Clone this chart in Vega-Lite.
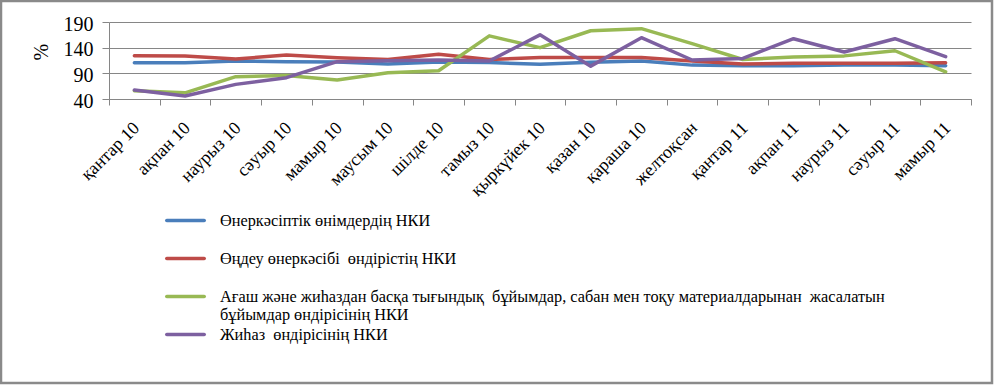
{
  "$schema": "https://vega.github.io/schema/vega-lite/v6.json",
  "width": 991,
  "height": 382,
  "autosize": {"type": "none"},
  "padding": {"left": 1, "top": 1, "right": 2, "bottom": 2},
  "background": "white",
  "config": {
    "view": {"stroke": "#8a8a8a", "strokeWidth": 2.5},
    "font": "Liberation Serif"
  },
  "data": {
    "values": [
      {"m": "қантар 10", "s": "Өнеркәсіптік өнімдердің НКИ", "v": 110.7},
      {"m": "ақпан 10", "s": "Өнеркәсіптік өнімдердің НКИ", "v": 110.5},
      {"m": "наурыз 10", "s": "Өнеркәсіптік өнімдердің НКИ", "v": 114},
      {"m": "сәуыр 10", "s": "Өнеркәсіптік өнімдердің НКИ", "v": 112.5},
      {"m": "мамыр 10", "s": "Өнеркәсіптік өнімдердің НКИ", "v": 112},
      {"m": "маусым 10", "s": "Өнеркәсіптік өнімдердің НКИ", "v": 108},
      {"m": "шілде 10", "s": "Өнеркәсіптік өнімдердің НКИ", "v": 112},
      {"m": "тамыз 10", "s": "Өнеркәсіптік өнімдердің НКИ", "v": 111},
      {"m": "қыркүйек 10", "s": "Өнеркәсіптік өнімдердің НКИ", "v": 107.6},
      {"m": "қазан 10", "s": "Өнеркәсіптік өнімдердің НКИ", "v": 111.5},
      {"m": "қараша 10", "s": "Өнеркәсіптік өнімдердің НКИ", "v": 114},
      {"m": "желтоқсан", "s": "Өнеркәсіптік өнімдердің НКИ", "v": 106},
      {"m": "қантар 11", "s": "Өнеркәсіптік өнімдердің НКИ", "v": 105},
      {"m": "ақпан 11", "s": "Өнеркәсіптік өнімдердің НКИ", "v": 105},
      {"m": "наурыз 11", "s": "Өнеркәсіптік өнімдердің НКИ", "v": 106},
      {"m": "сәуыр 11", "s": "Өнеркәсіптік өнімдердің НКИ", "v": 106},
      {"m": "мамыр 11", "s": "Өнеркәсіптік өнімдердің НКИ", "v": 105},

      {"m": "қантар 10", "s": "Өңдеу өнеркәсібі\u00a0 өндірістің НКИ", "v": 124.4},
      {"m": "ақпан 10", "s": "Өңдеу өнеркәсібі\u00a0 өндірістің НКИ", "v": 124},
      {"m": "наурыз 10", "s": "Өңдеу өнеркәсібі\u00a0 өндірістің НКИ", "v": 118},
      {"m": "сәуыр 10", "s": "Өңдеу өнеркәсібі\u00a0 өндірістің НКИ", "v": 125.7},
      {"m": "мамыр 10", "s": "Өңдеу өнеркәсібі\u00a0 өндірістің НКИ", "v": 120.5},
      {"m": "маусым 10", "s": "Өңдеу өнеркәсібі\u00a0 өндірістің НКИ", "v": 117},
      {"m": "шілде 10", "s": "Өңдеу өнеркәсібі\u00a0 өндірістің НКИ", "v": 127},
      {"m": "тамыз 10", "s": "Өңдеу өнеркәсібі\u00a0 өндірістің НКИ", "v": 117},
      {"m": "қыркүйек 10", "s": "Өңдеу өнеркәсібі\u00a0 өндірістің НКИ", "v": 121},
      {"m": "қазан 10", "s": "Өңдеу өнеркәсібі\u00a0 өндірістің НКИ", "v": 121},
      {"m": "қараша 10", "s": "Өңдеу өнеркәсібі\u00a0 өндірістің НКИ", "v": 121},
      {"m": "желтоқсан", "s": "Өңдеу өнеркәсібі\u00a0 өндірістің НКИ", "v": 114},
      {"m": "қантар 11", "s": "Өңдеу өнеркәсібі\u00a0 өндірістің НКИ", "v": 108},
      {"m": "ақпан 11", "s": "Өңдеу өнеркәсібі\u00a0 өндірістің НКИ", "v": 109.5},
      {"m": "наурыз 11", "s": "Өңдеу өнеркәсібі\u00a0 өндірістің НКИ", "v": 109.5},
      {"m": "сәуыр 11", "s": "Өңдеу өнеркәсібі\u00a0 өндірістің НКИ", "v": 109.5},
      {"m": "мамыр 11", "s": "Өңдеу өнеркәсібі\u00a0 өндірістің НКИ", "v": 110.7},

      {"m": "қантар 10", "s": "Ағаш және жиһаздан басқа тығындық\u00a0 бұйымдар, сабан мен тоқу материалдарынан\u00a0 жасалатын|бұйымдар өндірісінің НКИ", "v": 56},
      {"m": "ақпан 10", "s": "Ағаш және жиһаздан басқа тығындық\u00a0 бұйымдар, сабан мен тоқу материалдарынан\u00a0 жасалатын|бұйымдар өндірісінің НКИ", "v": 52},
      {"m": "наурыз 10", "s": "Ағаш және жиһаздан басқа тығындық\u00a0 бұйымдар, сабан мен тоқу материалдарынан\u00a0 жасалатын|бұйымдар өндірісінің НКИ", "v": 83.5},
      {"m": "сәуыр 10", "s": "Ағаш және жиһаздан басқа тығындық\u00a0 бұйымдар, сабан мен тоқу материалдарынан\u00a0 жасалатын|бұйымдар өндірісінің НКИ", "v": 86},
      {"m": "мамыр 10", "s": "Ағаш және жиһаздан басқа тығындық\u00a0 бұйымдар, сабан мен тоқу материалдарынан\u00a0 жасалатын|бұйымдар өндірісінің НКИ", "v": 77},
      {"m": "маусым 10", "s": "Ағаш және жиһаздан басқа тығындық\u00a0 бұйымдар, сабан мен тоқу материалдарынан\u00a0 жасалатын|бұйымдар өндірісінің НКИ", "v": 91},
      {"m": "шілде 10", "s": "Ағаш және жиһаздан басқа тығындық\u00a0 бұйымдар, сабан мен тоқу материалдарынан\u00a0 жасалатын|бұйымдар өндірісінің НКИ", "v": 95},
      {"m": "тамыз 10", "s": "Ағаш және жиһаздан басқа тығындық\u00a0 бұйымдар, сабан мен тоқу материалдарынан\u00a0 жасалатын|бұйымдар өндірісінің НКИ", "v": 163},
      {"m": "қыркүйек 10", "s": "Ағаш және жиһаздан басқа тығындық\u00a0 бұйымдар, сабан мен тоқу материалдарынан\u00a0 жасалатын|бұйымдар өндірісінің НКИ", "v": 140},
      {"m": "қазан 10", "s": "Ағаш және жиһаздан басқа тығындық\u00a0 бұйымдар, сабан мен тоқу материалдарынан\u00a0 жасалатын|бұйымдар өндірісінің НКИ", "v": 173},
      {"m": "қараша 10", "s": "Ағаш және жиһаздан басқа тығындық\u00a0 бұйымдар, сабан мен тоқу материалдарынан\u00a0 жасалатын|бұйымдар өндірісінің НКИ", "v": 177},
      {"m": "желтоқсан", "s": "Ағаш және жиһаздан басқа тығындық\u00a0 бұйымдар, сабан мен тоқу материалдарынан\u00a0 жасалатын|бұйымдар өндірісінің НКИ", "v": 148},
      {"m": "қантар 11", "s": "Ағаш және жиһаздан басқа тығындық\u00a0 бұйымдар, сабан мен тоқу материалдарынан\u00a0 жасалатын|бұйымдар өндірісінің НКИ", "v": 117},
      {"m": "ақпан 11", "s": "Ағаш және жиһаздан басқа тығындық\u00a0 бұйымдар, сабан мен тоқу материалдарынан\u00a0 жасалатын|бұйымдар өндірісінің НКИ", "v": 122},
      {"m": "наурыз 11", "s": "Ағаш және жиһаздан басқа тығындық\u00a0 бұйымдар, сабан мен тоқу материалдарынан\u00a0 жасалатын|бұйымдар өндірісінің НКИ", "v": 124},
      {"m": "сәуыр 11", "s": "Ағаш және жиһаздан басқа тығындық\u00a0 бұйымдар, сабан мен тоқу материалдарынан\u00a0 жасалатын|бұйымдар өндірісінің НКИ", "v": 134},
      {"m": "мамыр 11", "s": "Ағаш және жиһаздан басқа тығындық\u00a0 бұйымдар, сабан мен тоқу материалдарынан\u00a0 жасалатын|бұйымдар өндірісінің НКИ", "v": 93},

      {"m": "қантар 10", "s": "Жиһаз\u00a0 өндірісінің НКИ", "v": 57.5},
      {"m": "ақпан 10", "s": "Жиһаз\u00a0 өндірісінің НКИ", "v": 46},
      {"m": "наурыз 10", "s": "Жиһаз\u00a0 өндірісінің НКИ", "v": 68.5},
      {"m": "сәуыр 10", "s": "Жиһаз\u00a0 өндірісінің НКИ", "v": 81.5},
      {"m": "мамыр 10", "s": "Жиһаз\u00a0 өндірісінің НКИ", "v": 112.7},
      {"m": "маусым 10", "s": "Жиһаз\u00a0 өндірісінің НКИ", "v": 114.6},
      {"m": "шілде 10", "s": "Жиһаз\u00a0 өндірісінің НКИ", "v": 116},
      {"m": "тамыз 10", "s": "Жиһаз\u00a0 өндірісінің НКИ", "v": 114},
      {"m": "қыркүйек 10", "s": "Жиһаз\u00a0 өндірісінің НКИ", "v": 165},
      {"m": "қазан 10", "s": "Жиһаз\u00a0 өндірісінің НКИ", "v": 104},
      {"m": "қараша 10", "s": "Жиһаз\u00a0 өндірісінің НКИ", "v": 159.5},
      {"m": "желтоқсан", "s": "Жиһаз\u00a0 өндірісінің НКИ", "v": 116},
      {"m": "қантар 11", "s": "Жиһаз\u00a0 өндірісінің НКИ", "v": 119},
      {"m": "ақпан 11", "s": "Жиһаз\u00a0 өндірісінің НКИ", "v": 157.5},
      {"m": "наурыз 11", "s": "Жиһаз\u00a0 өндірісінің НКИ", "v": 131.5},
      {"m": "сәуыр 11", "s": "Жиһаз\u00a0 өндірісінің НКИ", "v": 157.5},
      {"m": "мамыр 11", "s": "Жиһаз\u00a0 өндірісінің НКИ", "v": 122.5}
    ]
  },
  "mark": {"type": "line", "strokeWidth": 3.5, "strokeCap": "round", "strokeJoin": "round"},
  "encoding": {
    "x": {
      "field": "m",
      "type": "nominal",
      "sort": null,
      "scale": {"type": "band", "range": [108, 970], "paddingInner": 0, "paddingOuter": 0},
      "axis": {
        "orient": "bottom",
        "offset": -284,
        "title": null,
        "labelAngle": -45,
        "labelAlign": "right",
        "labelBaseline": "middle",
        "labelFont": "Liberation Serif",
        "labelFontSize": 18,
        "labelColor": "black",
        "labelPadding": 20,
        "labelOffset": 2,
        "labelOverlap": false,
        "labelLimit": 300,
        "tickSize": 6,
        "tickColor": "#868686",
        "tickBand": "extent",
        "domainColor": "#868686",
        "grid": false
      }
    },
    "y": {
      "field": "v",
      "type": "quantitative",
      "scale": {"domain": [40, 190], "range": [98, 21], "nice": false, "zero": false},
      "axis": {
        "orient": "left",
        "offset": -108,
        "values": [40, 90, 140, 190],
        "grid": true,
        "gridColor": "#868686",
        "gridOpacity": 1,
        "domain": true,
        "domainColor": "#868686",
        "ticks": true,
        "tickSize": 7,
        "tickColor": "#868686",
        "labelFont": "Liberation Serif",
        "labelFontSize": 20,
        "labelColor": "black",
        "labelPadding": 9,
        "labelOffset": 2,
        "title": "%",
        "titleFont": "Liberation Serif",
        "titleFontSize": 20,
        "titleFontWeight": "normal",
        "titleColor": "black",
        "titleAngle": -90,
        "titleAlign": "center",
        "titleBaseline": "middle",
        "titleX": -67.3,
        "titleY": 50.7
      }
    },
    "color": {
      "field": "s",
      "type": "nominal",
      "scale": {
        "domain": [
          "Өнеркәсіптік өнімдердің НКИ",
          "Өңдеу өнеркәсібі\u00a0 өндірістің НКИ",
          "Ағаш және жиһаздан басқа тығындық\u00a0 бұйымдар, сабан мен тоқу материалдарынан\u00a0 жасалатын|бұйымдар өндірісінің НКИ",
          "Жиһаз\u00a0 өндірісінің НКИ"
        ],
        "range": ["#4a7ebb", "#be4b48", "#98b954", "#7d60a0"]
      },
      "legend": {
        "orient": "none",
        "legendX": 162,
        "legendY": 208,
        "direction": "vertical",
        "title": null,
        "padding": 0,
        "symbolType": "M-1.97,0L1.97,0",
        "symbolSize": 361,
        "symbolStrokeWidth": 3.5,
        "symbolOffset": 11,
        "labelFont": "Liberation Serif",
        "labelFontSize": 16.3,
        "labelColor": "black",
        "labelOffset": 23,
        "labelLimit": 900,
        "labelBaseline": "top",
        "labelExpr": "split(datum.label, '|')",
        "rowPadding": 0,
        "gridAlign": "all",
        "encode": {
          "labels": {"update": {"dy": {"value": -8}, "lineHeight": {"value": 18}}},
          "symbols": {"update": {"strokeCap": {"value": "round"}}}
        }
      }
    }
  }
}
